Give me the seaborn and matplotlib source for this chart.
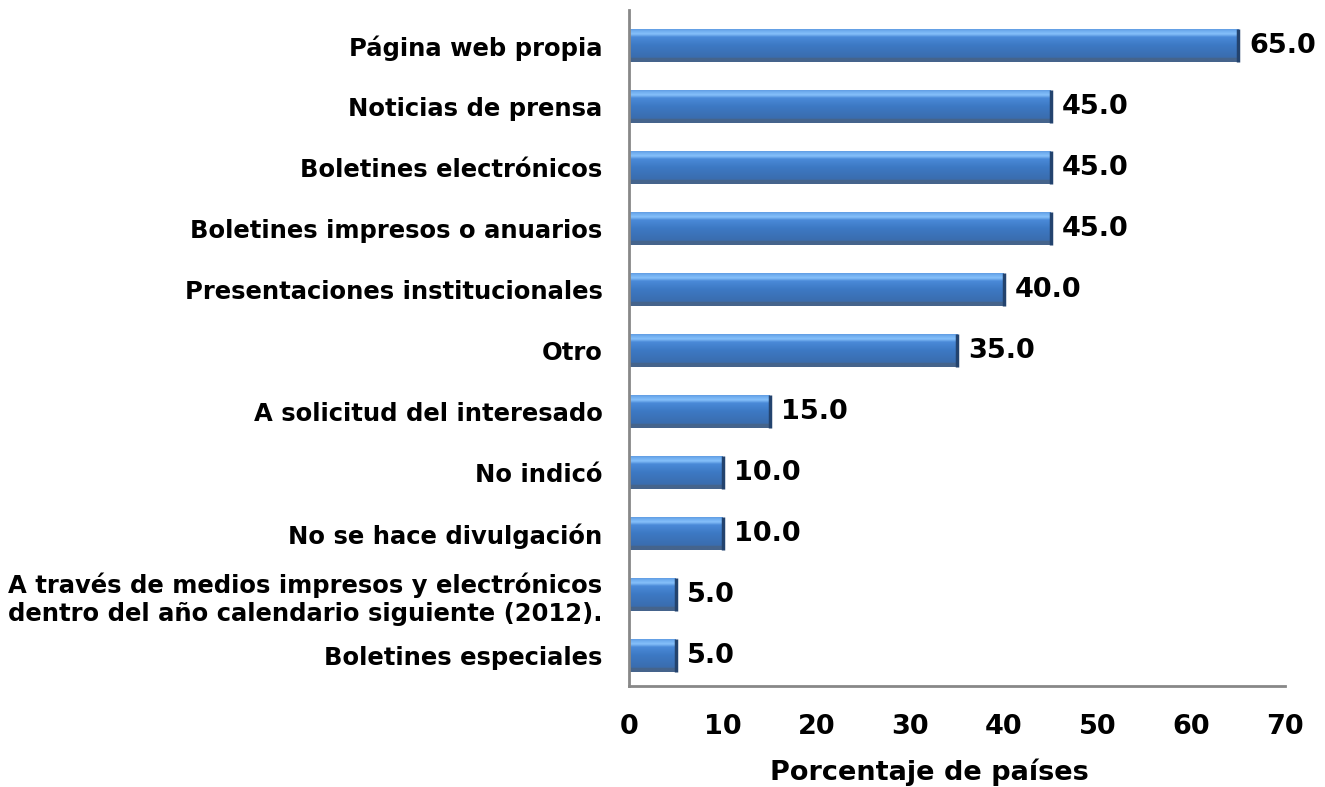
import matplotlib
matplotlib.use("Agg")
import matplotlib.pyplot as plt
import seaborn as sns
import numpy as np
import pandas as pd
from matplotlib.colors import LinearSegmentedColormap

categories = [
    "Página web propia",
    "Noticias de prensa",
    "Boletines electrónicos",
    "Boletines impresos o anuarios",
    "Presentaciones institucionales",
    "Otro",
    "A solicitud del interesado",
    "No indicó",
    "No se hace divulgación",
    "A través de medios impresos y electrónicos\ndentro del año calendario siguiente (2012).",
    "Boletines especiales",
]
values = [65.0, 45.0, 45.0, 45.0, 40.0, 35.0, 15.0, 10.0, 10.0, 5.0, 5.0]
xticks = [0, 10, 20, 30, 40, 50, 60, 70]
xlabel = "Porcentaje de países"

sns.set_style("white")
plt.rcParams['font.family'] = ['DejaVu Sans']
plt.rcParams['text.color'] = 'black'
plt.rcParams['xtick.color'] = 'black'
plt.rcParams['ytick.color'] = 'black'
plt.rcParams['axes.labelcolor'] = 'black'

df = pd.DataFrame({"cat": categories, "val": values})
fig = plt.figure(figsize=(13.25, 7.87), dpi=100)
ax = fig.add_axes([0.4747, 0.1283, 0.4951, 0.8587])

sns.barplot(data=df, y="cat", x="val", orient="h", color="#4A86D0",
            width=0.55, ax=ax, edgecolor="none", linewidth=0)

cmap = LinearSegmentedColormap.from_list(
    "bar", [(0.0, "#45648C"), (0.11, "#45648C"), (0.13, "#3A6DAE"), (0.5, "#3D79C4"),
            (0.74, "#4A8AD8"), (0.83, "#86C0FA"), (0.92, "#70AEF0"), (1.0, "#5B95DD")])
grad = np.linspace(1, 0, 96).reshape(-1, 1)
for p in list(ax.patches):
    x0, y0 = p.get_x(), p.get_y()
    w, h = p.get_width(), p.get_height()
    im = ax.imshow(grad, cmap=cmap, aspect="auto", origin="upper",
                   extent=[x0, x0 + w, y0 + h, y0], zorder=2, vmin=0, vmax=1)
    im.set_clip_path(p)
    p.set_facecolor("none")
    ax.plot([x0 + w, x0 + w], [y0, y0 + h], color="#23436E", lw=2.5, zorder=3,
            solid_capstyle="butt")
    ax.text(x0 + w + 1.2, y0 + h / 2, f"{w:.1f}", va="center", ha="left",
            fontsize=19.5, fontweight="bold", color="black")

ax.set_xlim(0, 70)
ax.set_ylim(10.5, -0.58)
ax.set_xticks(xticks)
ax.set_xticklabels([str(t) for t in xticks], fontsize=19.5, fontweight="bold")
ax.tick_params(axis="x", direction="out", length=7, width=1.5, color="#888888", pad=13)
ax.tick_params(axis="y", length=0, pad=19)
for lab in ax.get_yticklabels():
    lab.set_fontsize(17.5)
    lab.set_fontweight("bold")
    lab.set_multialignment("left")
ax.set_ylabel("")
ax.set_xlabel(xlabel, fontsize=19.5, fontweight="bold")
ax.xaxis.label.set_va("center")
ax.xaxis.set_label_coords((929 - 629) / 656, -(772 - 686) / 676)

for s in ["top", "right"]:
    ax.spines[s].set_visible(False)
for s in ["left", "bottom"]:
    ax.spines[s].set_color("#888888")
    ax.spines[s].set_linewidth(2)

fig.savefig("out.png", dpi=100)
